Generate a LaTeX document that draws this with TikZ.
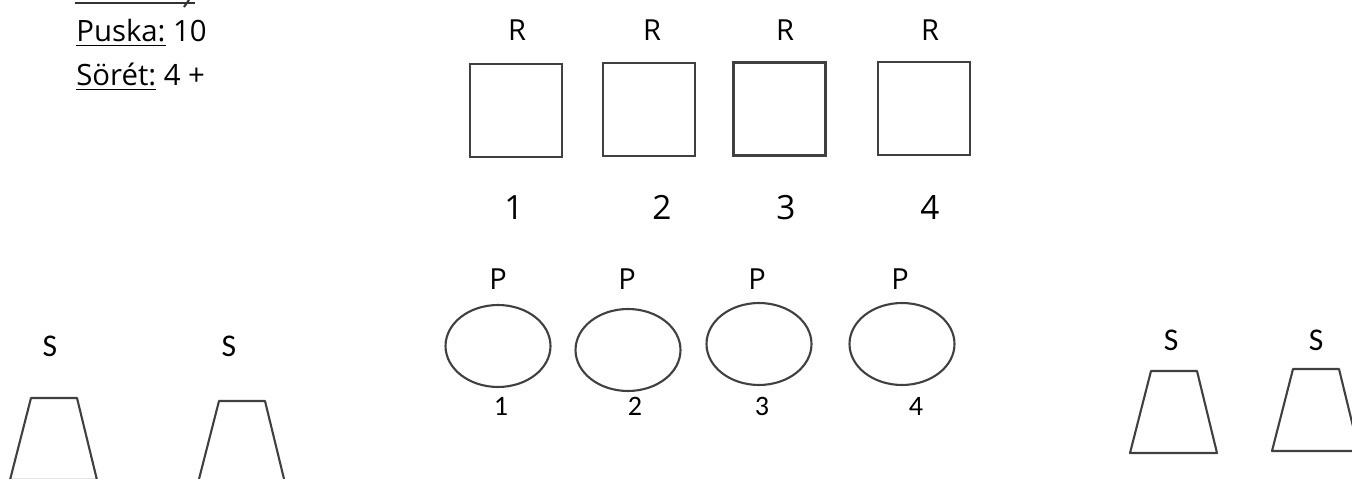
\documentclass[tikz,border=0pt]{standalone}
\usepackage{fontspec}
\setmainfont{Open Sans}
\newfontfamily\calfont{Carlito}
\usetikzlibrary{shapes.geometric}
\tikzset{
  box/.style={draw=black!75,line width=1.3pt,minimum width=1.84cm,minimum height=1.86cm,inner sep=0pt},
  oval/.style={ellipse,draw=black!75,line width=1.2pt,minimum width=2.1cm,minimum height=1.64cm,inner sep=0pt},
  txt/.style={anchor=base west,inner sep=0pt,font=\fontsize{16.7}{20}\selectfont},
  rlbl/.style={anchor=base,inner sep=0pt,font=\fontsize{16.5}{18}\selectfont},
  rnum/.style={anchor=base,inner sep=0pt,font=\fontsize{19}{21}\selectfont},
  plbl/.style={anchor=base,inner sep=0pt,font=\fontsize{16.5}{18}\selectfont},
  pnum/.style={anchor=base,inner sep=0pt,font=\calfont\fontsize{16}{18}\selectfont},
  slbl/.style={anchor=base,inner sep=0pt,font=\calfont\fontsize{18}{20}\selectfont},
  cup/.style={draw=black!75,line width=1.2pt,line join=round}
}
\begin{document}
\begin{tikzpicture}[x=0.02cm,y=-0.02cm]
\useasboundingbox (0,0) rectangle (1352,479);
\clip (0,0) rectangle (1352,479);
\draw[line width=1.5pt,black!80] (75,3) -- (195,3);
\draw[line width=1.2pt,black!80] (184,7) -- (189,0);
\node[txt] (puska) at (76,42) {\underline{Puska:} 10};
\node[txt] (soret) at (76,86) {\underline{Sörét:} 4 +};
\foreach \i/\x/\y/\rx/\nx in {1/516/110.5/517/514, 2/649/109.5/652/662, 3/779.5/109/785/786, 4/924/108.5/930/930} {
  \node[box] (r\i) at (\x,\y) {};
  \node[rlbl] (rl\i) at (\rx,41) {R};
  \node[rnum] (rn\i) at (\nx,220) {\i};
}
\foreach \i/\x/\y/\px/\nx in {1/498/346/498/501, 2/628/350/627/635, 3/759/344/757/762, 4/902/344/900/916} {
  \node[oval] (p\i) at (\x,\y) {};
  \node[plbl] (pl\i) at (\px,290) {P};
  \node[pnum] (pn\i) at (\nx,416) {\i};
}
\foreach \i/\x/\y/\sx/\sy in {1/31/398/50/357, 2/219/401/229/357, 3/1151/371/1171/351, 4/1293/369/1316/351} {
  \draw[cup] (\x,\y) -- ++(46,0) -- ++(20,82) -- ++(-87,0) -- cycle;
  \node[slbl] (s\i) at (\sx,\sy) {S};
}
\end{tikzpicture}
\end{document}
